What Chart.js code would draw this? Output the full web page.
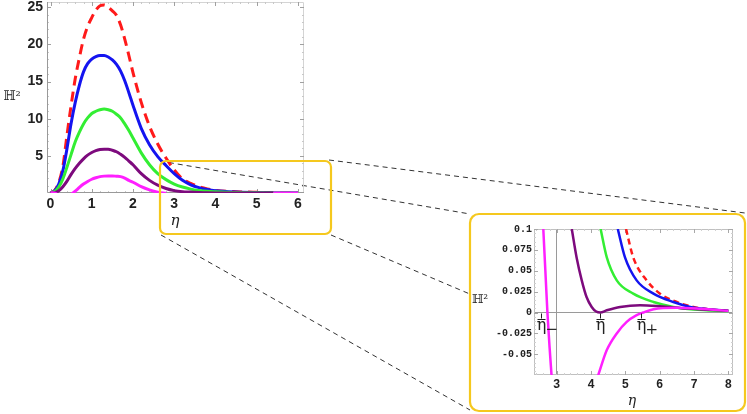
<!DOCTYPE html>
<html>
<head>
<meta charset="utf-8">
<script src="https://cdn.jsdelivr.net/npm/chart.js@4.4.1/dist/chart.umd.min.js"></script>
<style>
    html, body { margin: 0; padding: 0; background: #fff; }
    #stage { position: relative; width: 747px; height: 414px; overflow: hidden; }
    #stage canvas { position: absolute; }
</style>
</head>
<body>
<div id="stage">
    <canvas id="bg" width="747" height="414" style="left:0;top:0"></canvas>
    <canvas id="main-chart" width="320" height="240" style="left:0;top:0"></canvas>
    <canvas id="zoom-box" width="747" height="414" style="left:0;top:0"></canvas>
    <canvas id="inset-chart" width="274" height="195" style="left:471px;top:215px"></canvas>
</div>
<script>
// Main plot
const etaMain = [0, 0.1, 0.2, 0.3, 0.4, 0.5, 0.6, 0.7, 0.8, 0.9, 1.0, 1.1, 1.2, 1.3, 1.4, 1.5, 1.6, 1.7, 1.8, 1.9,
    2.0, 2.2, 2.4, 2.6, 2.8, 3.0, 3.2, 3.4, 3.6, 3.8, 4.0, 4.5, 5.0, 5.4, 6.0];
const redMain = [0, 0.35, 1.4, 3.6, 7.8, 11.8, 15.4, 18.2, 20.7, 22.4, 23.6, 24.6, 25.2, 25.3, 25.0, 24.5, 23.9, 22.6, 20.7, 18.5,
    16.2, 12.2, 9.0, 6.6, 4.7, 3.1, 1.9, 1.3, 0.85, 0.55, 0.36, 0.18, 0.1, 0.06, 0.03];
const blueMain = [0, 0.3, 1.2, 3.0, 6.0, 9.4, 12.2, 14.5, 16.3, 17.4, 18.0, 18.35, 18.5, 18.5, 18.3, 17.9, 17.3, 16.4, 15.1, 13.5,
    11.8, 8.7, 6.5, 4.9, 3.7, 2.6, 1.7, 1.1, 0.72, 0.47, 0.31, 0.14, 0.07, 0.045, 0.025];
const greenMain = [0, 0.2, 0.8, 1.9, 3.5, 5.2, 6.9, 8.2, 9.3, 10.1, 10.7, 11.0, 11.2, 11.3, 11.2, 11.0, 10.6, 10.1, 9.3, 8.4,
    7.4, 5.4, 3.8, 2.6, 1.8, 1.2, 0.8, 0.52, 0.34, 0.23, 0.17, 0.06, 0.028, 0.016, 0.009];
const purpleMain = [0, 0.05, 0.3, 0.85, 1.6, 2.5, 3.3, 4.0, 4.6, 5.1, 5.45, 5.7, 5.85, 5.9, 5.9, 5.75, 5.55, 5.2, 4.8, 4.3,
    3.8, 2.6, 1.7, 1.05, 0.6, 0.32, 0.18, 0.12, 0.06, 0.02, 0.006, 0.003, 0.007, 0.009, null];
const magentaMain = [0.02, 0, -0.3, -0.5, -0.45, -0.2, 0.25, 0.75, 1.2, 1.55, 1.85, 2.05, 2.2, 2.27, 2.3, 2.3, 2.25, 2.2, 2.0, 1.7,
    1.45, 0.85, 0.42, 0.12, -0.045, null, null, null, null, null, null, null, null, 0, 0.004];
const mainXTicks = [0, 1, 2, 3, 4, 5, 6];
const mainYTicks = [5, 10, 15, 20, 25];

// Zoomed inset
const redZoomEta = [5.02, 5.23, 5.62, 6.01, 6.5, 6.98, 7.47, 8.0];
const redZoomH2 = [0.1, 0.066, 0.0385, 0.0226, 0.0126, 0.0067, 0.0036, 0.002];
const blueZoomEta = [4.78, 4.99, 5.33, 5.82, 6.4, 6.89, 7.4, 8.0];
const blueZoomH2 = [0.1, 0.066, 0.0385, 0.0226, 0.0126, 0.0067, 0.004, 0.002];
const greenZoomEta = [4.28, 4.46, 4.75, 5.23, 5.82, 6.4, 6.98, 8.0];
const greenZoomH2 = [0.1, 0.066, 0.0385, 0.0226, 0.0126, 0.0067, 0.0036, 0.0018];
const purpleZoomEta = [3.44, 3.58, 3.73, 3.87, 4.02, 4.15, 4.27, 4.46, 4.85, 5.43, 6.01, 6.79, 8.0];
const purpleZoomH2 = [0.1, 0.066, 0.0385, 0.0186, 0.0067, 0.0012, 0, 0.0027, 0.0067, 0.0087, 0.0075, 0.0048, 0.002];
const magentaLeftEta = [2.61, 2.67, 2.73, 2.79, 2.85];
const magentaLeftH2 = [0.1, 0.05, 0, -0.04, -0.075];
const magentaRightEta = [4.21, 4.46, 4.75, 5.04, 5.33, 5.52, 5.82, 6.5, 7.2, 8.0];
const magentaRightH2 = [-0.075, -0.045, -0.025, -0.0112, -0.0032, 0, 0.004, 0.0058, 0.0045, 0.002];
const zoomXTicks = [3, 4, 5, 6, 7, 8];
const zoomYTicks = [0.1, 0.075, 0.05, 0.025, 0, -0.025, -0.05];
const zoomYLabels = ['0.1', '0.075', '0.05', '0.025', '0', '-0.025', '-0.05'];
const markerEta = [2.73, 4.27, 5.52];
const markerSub = ['\u2212', '', '+'];

const RED = '#ff1a1a', BLUE = '#1414f0', GREEN = '#33ee33', PURPLE = '#7d0a7d', MAGENTA = '#ff1fff';
const YELLOW = '#f5c81e';

function toPoints(xs, ys) {
    return xs.map((x, i) => ({ x: x, y: ys[i] }));
}

function curve(label, data, color, width, dash) {
    return {
        label: label,
        data: data,
        borderColor: color,
        borderWidth: width,
        borderDash: dash || [],
        pointRadius: 0,
        fill: false,
        spanGaps: false,
        cubicInterpolationMode: 'monotone',
        clip: 0
    };
}

function fixSize(w, h) {
    return s => {
        if (w != null) s.width = w;
        if (h != null) s.height = h;
        s.paddingTop = s.paddingBottom = s.paddingLeft = s.paddingRight = 0;
    };
}

function useTicks(values) {
    return s => { s.ticks = values.map(v => ({ value: v })); };
}

function inwardTicks(ctx, a, x, y, xs, ys, len) {
    ctx.beginPath();
    xs.forEach(v => {
        const p = Math.round(x.getPixelForValue(v)) + 0.5;
        ctx.moveTo(p, a.bottom); ctx.lineTo(p, a.bottom - len);
        ctx.moveTo(p, a.top); ctx.lineTo(p, a.top + len);
    });
    ys.forEach(v => {
        const p = Math.round(y.getPixelForValue(v)) + 0.5;
        ctx.moveTo(a.left, p); ctx.lineTo(a.left + len, p);
        ctx.moveTo(a.right, p); ctx.lineTo(a.right - len, p);
    });
    ctx.stroke();
}

function steps(from, to, step) {
    const out = [];
    for (let v = from; v <= to + 1e-9; v += step) out.push(+v.toFixed(4));
    return out;
}

function roundRect(ctx, x, y, w, h, r) {
    ctx.beginPath();
    ctx.moveTo(x + r, y);
    ctx.arcTo(x + w, y, x + w, y + h, r);
    ctx.arcTo(x + w, y + h, x, y + h, r);
    ctx.arcTo(x, y + h, x, y, r);
    ctx.arcTo(x, y, x + w, y, r);
    ctx.closePath();
}

// background: zoom connectors + inset box
const bg = document.getElementById('bg').getContext('2d');
bg.fillStyle = '#fff';
bg.fillRect(0, 0, 747, 414);
bg.strokeStyle = '#333';
bg.lineWidth = 1;
bg.setLineDash([5, 4]);
[[329, 160, 745, 213], [160, 161, 470, 214], [331, 235, 745, 411], [161, 235, 470, 410]].forEach(l => {
    bg.beginPath();
    bg.moveTo(l[0], l[1]);
    bg.lineTo(l[2], l[3]);
    bg.stroke();
});
bg.setLineDash([]);
roundRect(bg, 470, 214, 275, 197, 9);
bg.fillStyle = '#fff';
bg.fill();
bg.strokeStyle = YELLOW;
bg.lineWidth = 2.2;
bg.stroke();

const zb = document.getElementById('zoom-box').getContext('2d');
roundRect(zb, 160, 161, 171, 73, 6);
zb.strokeStyle = YELLOW;
zb.lineWidth = 2.2;
zb.stroke();

Chart.defaults.color = '#222';
Chart.defaults.animation = false;

const mainFrame = {
    id: 'mainFrame',
    beforeDatasetsDraw(chart) {
        const { ctx, chartArea: a, scales: { x, y } } = chart;
        ctx.save();
        ctx.lineWidth = 1;
        ctx.strokeStyle = '#d4d4d4';
        ctx.beginPath();
        ctx.moveTo(a.left, a.top + 0.5);
        ctx.lineTo(a.right - 0.5, a.top + 0.5);
        ctx.lineTo(a.right - 0.5, a.bottom);
        ctx.stroke();
        ctx.strokeStyle = '#c8c8c8';
        inwardTicks(ctx, a, x, y, steps(0, 6, 0.2), steps(1, 25, 1), 2);
        ctx.strokeStyle = '#a0a0a0';
        inwardTicks(ctx, a, x, y, mainXTicks, mainYTicks, 4);
        ctx.strokeStyle = '#999';
        ctx.beginPath();
        ctx.moveTo(a.left + 0.5, a.top);
        ctx.lineTo(a.left + 0.5, a.bottom - 0.5);
        ctx.lineTo(a.right, a.bottom - 0.5);
        ctx.stroke();
        ctx.restore();
    },
    afterDraw(chart) {
        const ctx = chart.ctx;
        ctx.save();
        ctx.fillStyle = '#222';
        ctx.textAlign = 'center';
        ctx.textBaseline = 'middle';
        ctx.font = '13px "DejaVu Serif"';
        ctx.fillText('\u210D\u00B2', 12, 97);
        ctx.font = 'italic 15px "DejaVu Serif"';
        ctx.fillText('\u03B7', 175, 221);
        ctx.restore();
    }
};

new Chart(document.getElementById('main-chart'), {
    type: 'line',
    data: {
        datasets: [
            curve('magenta', toPoints(etaMain, magentaMain), MAGENTA, 3),
            curve('purple', toPoints(etaMain, purpleMain), PURPLE, 3),
            curve('green', toPoints(etaMain, greenMain), GREEN, 3),
            curve('blue', toPoints(etaMain, blueMain), BLUE, 3),
            curve('red', toPoints(etaMain, redMain), RED, 3, [10, 6])
        ]
    },
    options: {
        responsive: false,
        events: [],
        layout: { padding: { left: 0, top: 2, right: 16, bottom: 0 } },
        plugins: { legend: { display: false }, tooltip: { enabled: false } },
        scales: {
            x: {
                type: 'linear', min: -0.085, max: 6.146,
                afterBuildTicks: useTicks(mainXTicks),
                afterFit: fixSize(null, 47),
                grid: { display: false, drawTicks: false }, border: { display: false },
                ticks: { autoSkip: false, maxRotation: 0, padding: 3, callback: v => String(v),
                    font: { family: 'Liberation Sans', weight: 'bold', size: 14 } }
            },
            y: {
                type: 'linear', min: 0, max: 25.7,
                afterBuildTicks: useTicks(mainYTicks),
                afterFit: fixSize(47, null),
                grid: { display: false, drawTicks: false }, border: { display: false },
                ticks: { autoSkip: false, padding: 4, callback: v => String(v),
                    font: { family: 'Liberation Sans', weight: 'bold', size: 14 } }
            }
        }
    },
    plugins: [mainFrame]
});

const insetFrame = {
    id: 'insetFrame',
    beforeDatasetsDraw(chart) {
        const { ctx, chartArea: a, scales: { x, y } } = chart;
        ctx.save();
        ctx.lineWidth = 1;
        ctx.strokeStyle = '#c0c0c0';
        ctx.strokeRect(a.left + 0.5, a.top + 0.5, a.right - a.left - 1, a.bottom - a.top - 1);
        ctx.strokeStyle = '#d0d0d0';
        inwardTicks(ctx, a, x, y, steps(2.4, 8, 0.2), steps(-0.07, 0.1, 0.005), 2);
        ctx.strokeStyle = '#a8a8a8';
        inwardTicks(ctx, a, x, y, zoomXTicks, zoomYTicks, 4);
        ctx.restore();
    },
    afterDraw(chart) {
        const { ctx, scales: { x, y } } = chart;
        const y0 = Math.round(y.getPixelForValue(0)) + 0.5;
        const dx = [-6, 0, -2];
        ctx.save();
        ctx.fillStyle = '#222';
        ctx.strokeStyle = '#222';
        ctx.lineWidth = 1;
        markerEta.forEach((e, i) => {
            const px = Math.round(x.getPixelForValue(e)) + 0.5;
            const cx = px + dx[i];
            ctx.beginPath();
            ctx.moveTo(cx, y0);
            ctx.lineTo(cx, y0 + 5);
            ctx.moveTo(cx - 4, y0 + 6);
            ctx.lineTo(cx + 4, y0 + 6);
            ctx.stroke();
            ctx.textAlign = 'center';
            ctx.textBaseline = 'alphabetic';
            ctx.font = '16px "DejaVu Serif"';
            ctx.fillText('\u03B7', cx, y0 + 16);
            if (markerSub[i]) {
                ctx.textAlign = 'left';
                ctx.font = '15px "DejaVu Serif"';
                ctx.fillText(markerSub[i], cx + 4, y0 + 20);
            }
        });
        ctx.textAlign = 'center';
        ctx.textBaseline = 'middle';
        ctx.font = '12px "DejaVu Serif"';
        ctx.fillText('\u210D\u00B2', 9, 85);
        ctx.font = 'italic 14px "DejaVu Serif"';
        ctx.fillText('\u03B7', 161, 186);
        ctx.restore();
    }
};

const magentaZoom = toPoints(magentaLeftEta, magentaLeftH2)
    .concat([{ x: 3.5, y: null }])
    .concat(toPoints(magentaRightEta, magentaRightH2));

new Chart(document.getElementById('inset-chart'), {
    type: 'line',
    data: {
        datasets: [
            curve('magenta', magentaZoom, MAGENTA, 2.5),
            curve('purple', toPoints(purpleZoomEta, purpleZoomH2), PURPLE, 2.5),
            curve('green', toPoints(greenZoomEta, greenZoomH2), GREEN, 2.5),
            curve('blue', toPoints(blueZoomEta, blueZoomH2), BLUE, 2.5),
            curve('red', toPoints(redZoomEta, redZoomH2), RED, 2.5, [6, 4])
        ]
    },
    options: {
        responsive: false,
        events: [],
        layout: { padding: { left: 0, top: 14, right: 12, bottom: 0 } },
        plugins: { legend: { display: false }, tooltip: { enabled: false } },
        scales: {
            x: {
                type: 'linear', min: 2.339, max: 8.137,
                afterBuildTicks: useTicks(zoomXTicks),
                afterFit: fixSize(null, 35),
                grid: { drawTicks: false, color: c => (c.tick && c.tick.value === 3 ? '#9a9a9a' : 'rgba(0,0,0,0)') },
                border: { display: false },
                ticks: { autoSkip: false, maxRotation: 0, padding: 3, callback: v => String(v),
                    font: { family: 'Liberation Mono', weight: 'bold', size: 12 } }
            },
            y: {
                type: 'linear', min: -0.0748, max: 0.1,
                afterBuildTicks: useTicks(zoomYTicks),
                afterFit: fixSize(63, null),
                grid: { drawTicks: false, color: c => (c.tick && c.tick.value === 0 ? '#9a9a9a' : 'rgba(0,0,0,0)') },
                border: { display: false },
                ticks: { autoSkip: false, padding: 2,
                    callback: v => { const i = zoomYTicks.indexOf(v); return i >= 0 ? zoomYLabels[i] : ''; },
                    font: { family: 'Liberation Mono', weight: 'bold', size: 10 } }
            }
        }
    },
    plugins: [insetFrame]
});
</script>
</body>
</html>
